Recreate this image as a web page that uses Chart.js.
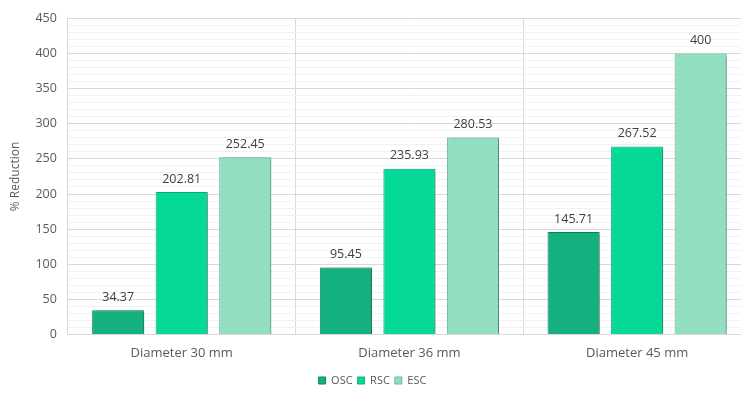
<!DOCTYPE html>
<html>
<head>
<meta charset="utf-8">
<script src="https://cdn.jsdelivr.net/npm/chart.js@4/dist/chart.umd.min.js"></script>
<style>
  html, body { margin: 0; padding: 0; background: #ffffff; overflow: hidden; }
  #wrap { width: 741px; height: 394px; overflow: hidden; }
  canvas { display: block; }
</style>
</head>
<body>
<div id="wrap"><canvas id="chart" width="751" height="394"></canvas></div>
<script>
// Categories and series values
const categories = ['Diameter 30 mm', 'Diameter 36 mm', 'Diameter 45 mm'];
const oscValues = [34.37, 95.45, 145.71];
const rscValues = [202.81, 235.93, 267.52];
const escValues = [252.45, 280.53, 400];
const seriesNames = ['OSC', 'RSC', 'ESC'];
const yTickStep = 50;

const FONT = '"Open Sans", "Liberation Sans", sans-serif';

// Soft shadow under the bars, value labels above them, legend placement
const barDecor = {
  id: 'barDecor',
  beforeDatasetsDraw(chart) {
    const ctx = chart.ctx;
    ctx.save();
    ctx.shadowColor = 'rgba(0,0,0,0.35)';
    ctx.shadowOffsetX = 2;
    ctx.shadowOffsetY = 1;
    ctx.shadowBlur = 3;
  },
  afterDatasetsDraw(chart) {
    const ctx = chart.ctx;
    ctx.restore();
    ctx.save();
    ctx.font = '12.5px ' + FONT;
    ctx.fillStyle = '#404040';
    ctx.textAlign = 'center';
    ctx.textBaseline = 'middle';
    chart.data.datasets.forEach((ds, i) => {
      const meta = chart.getDatasetMeta(i);
      meta.data.forEach((bar, j) => {
        ctx.fillText(String(ds.data[j]), bar.x, bar.y - 13);
      });
    });
    ctx.restore();
  },
  afterLayout(chart) {
    const lg = chart.legend;
    if (!lg) return;
    // centre the legend on the visible page width
    lg.right -= 10;
    lg.top -= 2;
    lg.bottom -= 2;
  }
};

new Chart(document.getElementById('chart'), {
  type: 'bar',
  data: {
    labels: categories,
    datasets: [
      { label: seriesNames[0], data: oscValues, backgroundColor: '#14b07f', borderColor: '#0c8a62', borderWidth: 1 },
      { label: seriesNames[1], data: rscValues, backgroundColor: '#06d898', borderColor: '#08b27d', borderWidth: 1 },
      { label: seriesNames[2], data: escValues, backgroundColor: '#92dfbf', borderColor: '#63bf9a', borderWidth: 1 }
    ]
  },
  options: {
    responsive: false,
    devicePixelRatio: 1,
    animation: false,
    layout: { padding: { top: 5, left: 4, right: 0, bottom: -4 } },
    datasets: { bar: { categoryPercentage: 0.837, barPercentage: 0.82 } },
    plugins: {
      tooltip: { enabled: false },
      legend: {
        position: 'bottom',
        labels: {
          boxWidth: 7, boxHeight: 7, padding: 5,
          color: '#595959',
          font: { family: FONT, size: 11 }
        }
      }
    },
    scales: {
      x: {
        grid: { color: '#d9d9d9', drawTicks: false, offset: true },
        border: { color: '#d9d9d9' },
        ticks: { color: '#595959', font: { family: FONT, size: 13 }, padding: 11 }
      },
      y: {
        min: 0, max: 450,
        grid: {
          drawTicks: false,
          color: c => (c.tick && c.tick.value % yTickStep === 0) ? '#d9d9d9' : '#f1f1f1'
        },
        border: { color: '#d9d9d9' },
        ticks: {
          stepSize: 10,
          autoSkip: false,
          color: '#595959',
          font: { family: FONT, size: 12.5 },
          padding: 11,
          callback: v => (v % yTickStep === 0 ? String(v) : '')
        },
        title: {
          display: true, text: '% Reduction',
          color: '#595959', font: { family: FONT, size: 12 }, padding: { bottom: 2 }
        }
      }
    }
  },
  plugins: [barDecor]
});
</script>
</body>
</html>
